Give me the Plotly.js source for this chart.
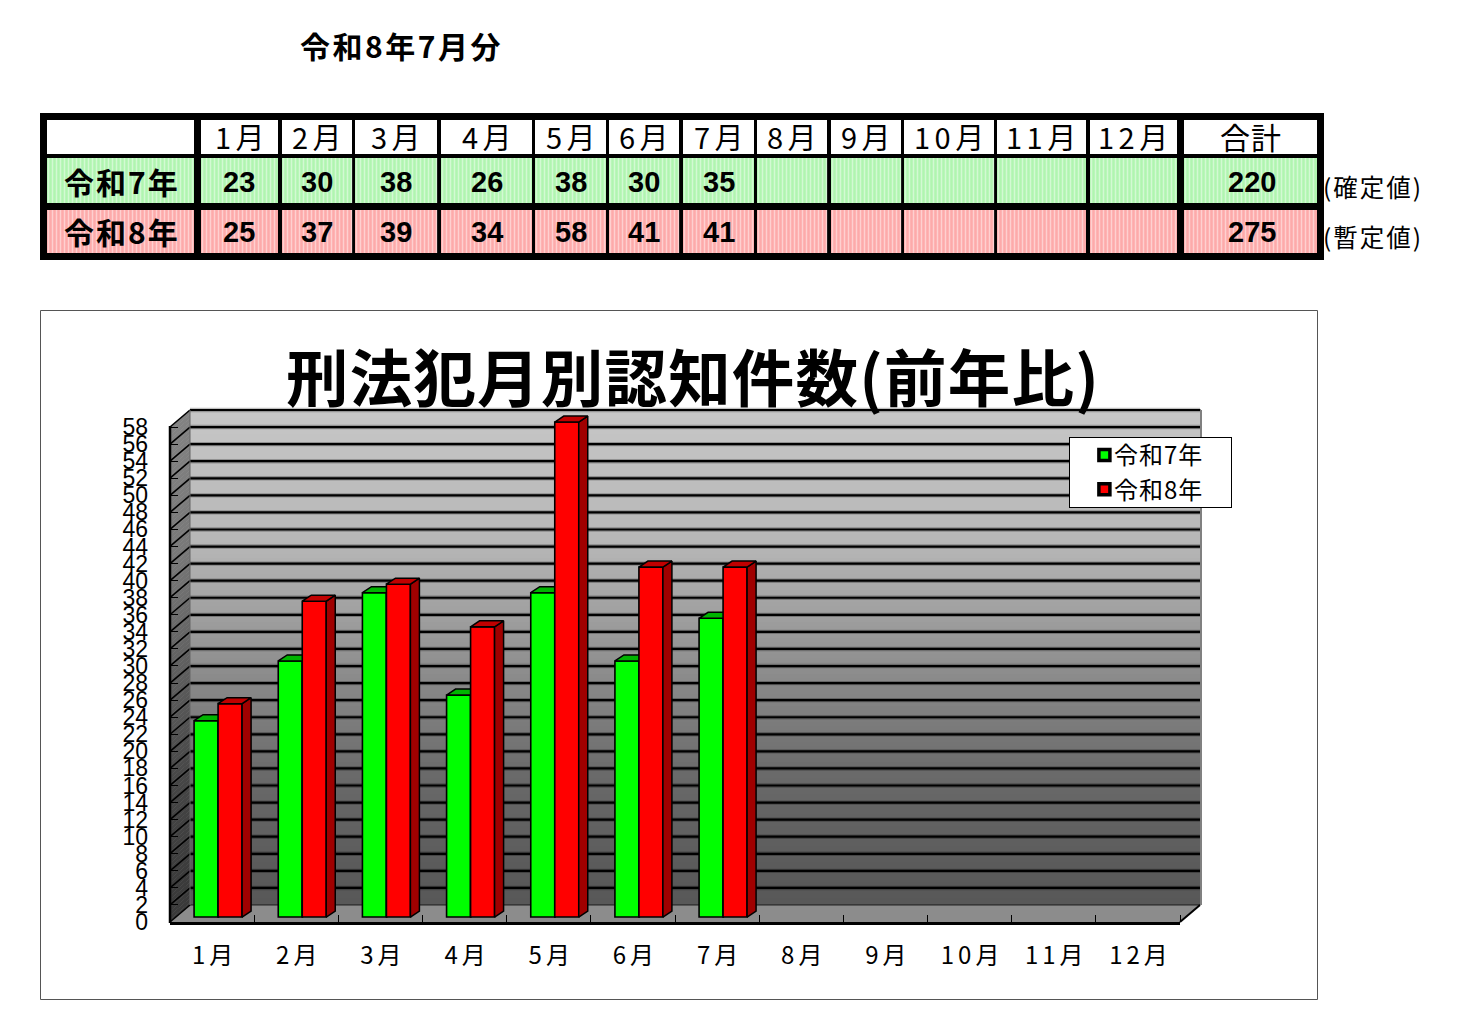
<!DOCTYPE html>
<html><head><meta charset="utf-8">
<script src="https://cdn.plot.ly/plotly-3.0.1.min.js"></script>
<style>html,body{margin:0;padding:0;background:#fff}#c{width:1462px;height:1034px}
.xtick text{letter-spacing:4px}
.gtitle{letter-spacing:1.2px}
.legendtext{letter-spacing:1px}</style></head>
<body><div id="c"></div>
<script>
// ---- data ----
const months = ['1月','2月','3月','4月','5月','6月','7月','8月','9月','10月','11月','12月'];
const yTicks = [0,2,4,6,8,10,12,14,16,18,20,22,24,26,28,30,32,34,36,38,40,42,44,46,48,50,52,54,56,58];
const r7Name = '令和7年', r8Name = '令和8年';
const r7Values = [23,30,38,26,38,30,35];
const r8Values = [25,37,39,34,58,41,41];
const r7Total = 220, r8Total = 275;
const totalLabel = '合計';
const r7Note = '(確定値)', r8Note = '(暫定値)';
const pageTitle = '令和8年7月分';
const chartTitle = '刑法犯月別認知件数(前年比)';

// ---- geometry (page pixels) ----
const W=1462,H=1034, X=p=>p/W, Y=p=>1-p/H;
const L=170,R=1180,B=922,T=427,DX=20,DY=17;
const yMax=58, yExt=62, uX=(R-L)/12, uY=(B-T)/yMax;
const barW=24/uX, shiftX=6/uX, shiftY=5/uY, depX=9/uX, depY=6/uY;
const FONT='"Noto Sans CJK JP","Noto Sans",sans-serif', NUM='"Liberation Sans",sans-serif';
const colEdges=[[47,194],[201,278],[282,352],[355,437],[441,532],[535,606],[609,679],[683,754],[757,827],[831,901],[904,994],[997,1086],[1090,1177],[1184,1317]];
const rowEdges=[[120,154],[158,203],[210,253]];
const rowFill=['#ffffff','#b0f5b0','#fdaaaa'];
const wallStops=[[0,198],[0.27,182],[0.53,140],[0.73,106],[0.93,90],[1,88]];

const rect=(x0,y0,x1,y1,fill,line)=>({type:'rect',xref:'paper',yref:'paper',layer:'below',
  x0:X(x0),x1:X(x1),y0:Y(y0),y1:Y(y1),fillcolor:fill,line:line||{width:0}});
const poly=(pts,fill,line)=>({type:'path',xref:'paper',yref:'paper',layer:'below',
  path:'M'+pts.map(p=>X(p[0])+','+Y(p[1])).join('L')+'Z',fillcolor:fill,line:line||{width:0}});
const seg=(x0,y0,x1,y1,color,width)=>({type:'line',xref:'paper',yref:'paper',layer:'below',
  x0:X(x0),x1:X(x1),y0:Y(y0),y1:Y(y1),line:{color,width}});
const wall=(t)=>{for(let i=1;i<wallStops.length;i++){const a=wallStops[i-1],b=wallStops[i];
  if(t<=b[0])return a[1]+(b[1]-a[1])*(t-a[0])/(b[0]-a[0]);}return 88;};
const rgb=v=>{v=Math.round(v);return `rgb(${v},${v},${v})`;};

const shapes=[];
// table
shapes.push(rect(40,113,1324,260,'#000'));
rowEdges.forEach((r,ri)=>colEdges.forEach(c=>{
  shapes.push(rect(c[0],r[0],c[1],r[1],rowFill[ri]));
  if(ri>0){ // fine dither stripes of the filled cells
    let p='';
    for(let x=c[0]+1.5;x<c[1];x+=4){p+=`M${X(x)},${Y(r[0])}L${X(x)},${Y(r[1])}`;}
    shapes.push({type:'path',xref:'paper',yref:'paper',layer:'below',path:p,line:{color:'rgba(255,255,255,0.45)',width:1.5}});
  }
}));
// chart frame
shapes.push(rect(40.5,310.5,1317.5,999.5,'#fff',{color:'#555',width:1}));
// gradient walls
const strip=4;
for(let y=0;y<B-T;y+=strip){
  const t=y/(B-T), y0=T-DY+y, y1=Math.min(T-DY+y+strip+0.5,B-DY);
  shapes.push(rect(L+DX,y0,R+DX,y1,rgb(wall(t))));
  shapes.push(poly([[L,y0+DY],[L+DX,y0],[L+DX,y1],[L,y1+DY]],rgb(wall(t)*0.66)));
}
shapes.push(poly([[L,B],[L+DX,B-DY],[R+DX,B-DY],[R,B]],'#8c8c8c'));
// outer wall edges
shapes.push(seg(L+DX,T-DY,R+DX+1,T-DY,'#909090',2));
shapes.push(seg(R+DX+1,T-DY,R+DX+1,B-DY,'#808080',2));
// gridlines
for(let v=0;v<=yMax;v+=2){
  const yf=B-v*uY, yb=yf-DY;
  if(v>0){ shapes.push(seg(L+DX,yb,R+DX,yb,'rgba(0,0,0,0.25)',4.4));
           shapes.push(seg(L+DX,yb,R+DX,yb,'#000',2.2)); }
  else shapes.push(seg(L+DX,yb,R+DX,yb,'rgba(0,0,0,0.5)',1.5));
  shapes.push(seg(L,yf,L+DX,yb,'#000',1.6));
}
shapes.push(seg(L+DX,T-DY,L+DX,B-DY,'#666',1));
shapes.push(seg(R,B,R+DX,B-DY,'#000',2));
shapes.push(seg(L,T-1,L,B+1,'#000',2.5));

// annotations
const ann=(text,x,y,size,o)=>{o=o||{};
  let t=text; if(o.sp) t=`<span style="letter-spacing:${o.sp}px">${t}</span>`; if(o.bold) t=`<b>${t}</b>`;
  return {text:t,xref:'paper',yref:'paper',x:X(x),y:Y(y),showarrow:false,xanchor:'center',yanchor:'middle',
    font:{family:o.family||FONT,size,color:'#000'}};};
const annotations=[ann(pageTitle,401,45,30,{bold:true,sp:2.5})];
const cx=c=>(c[0]+c[1])/2;
months.forEach((m,i)=>annotations.push(ann(m,cx(colEdges[i+1])+2,136,29,{sp:4.5})));
annotations.push(ann(totalLabel,cx(colEdges[13]),136,30,{sp:1}));
annotations.push(ann(r7Name,122,181,30,{bold:true,sp:2}));
annotations.push(ann(r8Name,122,231,30,{bold:true,sp:2}));
r7Values.forEach((v,i)=>annotations.push(ann(String(v),cx(colEdges[i+1]),182,29,{bold:true,family:NUM})));
r8Values.forEach((v,i)=>annotations.push(ann(String(v),cx(colEdges[i+1]),232,29,{bold:true,family:NUM})));
annotations.push(ann(String(r7Total),1252,182,29,{bold:true,family:NUM}));
annotations.push(ann(String(r8Total),1252,232,29,{bold:true,family:NUM}));
annotations.push(ann(r7Note,1373,186.5,24.5,{sp:2}));
annotations.push(ann(r8Note,1373,236.5,24.5,{sp:2}));

// 3D faces derived from the values
function faces(values,off){
  const top={x:[],y:[]},side={x:[],y:[]};
  values.forEach((v,i)=>{
    const xl=i+shiftX+off, xr=xl+barW, yt=v+shiftY, yb=shiftY;
    top.x.push(xl,xl+depX,xr+depX,xr,xl,null);
    top.y.push(yt,yt+depY,yt+depY,yt,yt,null);
    side.x.push(xr,xr+depX,xr+depX,xr,xr,null);
    side.y.push(yt,yt+depY,yb+depY,yb,yt,null);
  });
  return {top,side};
}
function series(name,values,off,front,topC,sideC,xa,ya){
  const f=faces(values,off), idx=values.map((_,i)=>i+shiftX);
  const face=(d,c)=>({type:'scatter',mode:'lines',x:d.x,y:d.y,xaxis:xa,yaxis:ya,fill:'toself',fillcolor:c,
    line:{color:'#000',width:1.5},showlegend:false,hoverinfo:'skip'});
  return [
    {type:'bar',name,x:idx,y:values,base:shiftY,width:barW,offset:off,xaxis:xa,yaxis:ya,
     marker:{color:front,line:{color:'#000',width:1.6}}},
    face(f.side,sideC),face(f.top,topC)
  ];
}
const traces=[
  ...series(r7Name,r7Values,-barW,'#00ff00','#00b400','#00a000','x','y'),
  ...series(r8Name,r8Values,0,'#ff0000','#c00000','#a00000','x2','y2')
];
const xDom=[X(L),X(R)], yDom=[Y(B),Y(B-yExt*uY)];
const layout={
  width:W,height:H,margin:{l:0,r:0,t:0,b:0},autosize:false,
  paper_bgcolor:'#fff',plot_bgcolor:'rgba(0,0,0,0)',
  title:{text:`<b>${chartTitle}</b>`,xref:'paper',yref:'paper',x:X(693),y:Y(380.5),xanchor:'center',yanchor:'middle',
    font:{family:FONT,size:62.5,color:'#000'}},
  barmode:'overlay',showlegend:true,
  xaxis:{domain:xDom,range:[-0.5,11.5],tickmode:'array',tickvals:months.map((_,i)=>i+0.03),ticktext:months,
    ticks:'',showgrid:false,zeroline:false,showline:true,linecolor:'#000',linewidth:2.5,
    tickfont:{family:FONT,size:24,color:'#000'},ticklabelstandoff:11,
    minor:{ticks:'inside',tickmode:'linear',tick0:-0.5,dtick:1,ticklen:7,tickcolor:'#000',tickwidth:1,showgrid:false}},
  yaxis:{domain:yDom,range:[0,yExt],tickmode:'array',tickvals:yTicks,ticktext:yTicks.map(String),
    ticks:'inside',ticklen:8,tickcolor:'#000',tickwidth:1,showgrid:false,zeroline:false,showline:false,
    tickfont:{family:NUM,size:23,color:'#000'},ticklabelstandoff:21},
  xaxis2:{domain:xDom,range:[-0.5,11.5],overlaying:'x',visible:false,anchor:'y2'},
  yaxis2:{domain:yDom,range:[0,yExt],overlaying:'y',visible:false,anchor:'x2'},
  legend:{x:X(1069),y:Y(437),xanchor:'left',yanchor:'top',bgcolor:'#fff',bordercolor:'#000',borderwidth:1,
    font:{family:FONT,size:24,color:'#000'},itemwidth:34,traceorder:'normal'},
  shapes,annotations
};
Plotly.newPlot('c',traces,layout,{displayModeBar:false,staticPlot:true}).then(()=>{
  // match the reference's legend box and swatch proportions
  const lg=document.querySelector('.legend'); if(!lg) return;
  const bg=lg.querySelector('.bg'); if(bg){bg.setAttribute('width',162);bg.setAttribute('height',70);}
  const sb=lg.querySelector('.scrollbox');
  if(sb){sb.removeAttribute('clip-path');sb.setAttribute('transform','translate(0,-5)');}
  lg.querySelectorAll('.legendpoints path').forEach(p=>{
    p.setAttribute('d','M5.5,5.5H-5.5V-5.5H5.5Z');
    p.setAttribute('transform','translate(34.4,0)');
    p.style.stroke='#000';p.style.strokeWidth='3.5px';p.style.strokeOpacity='1';
  });
});
</script></body></html>
